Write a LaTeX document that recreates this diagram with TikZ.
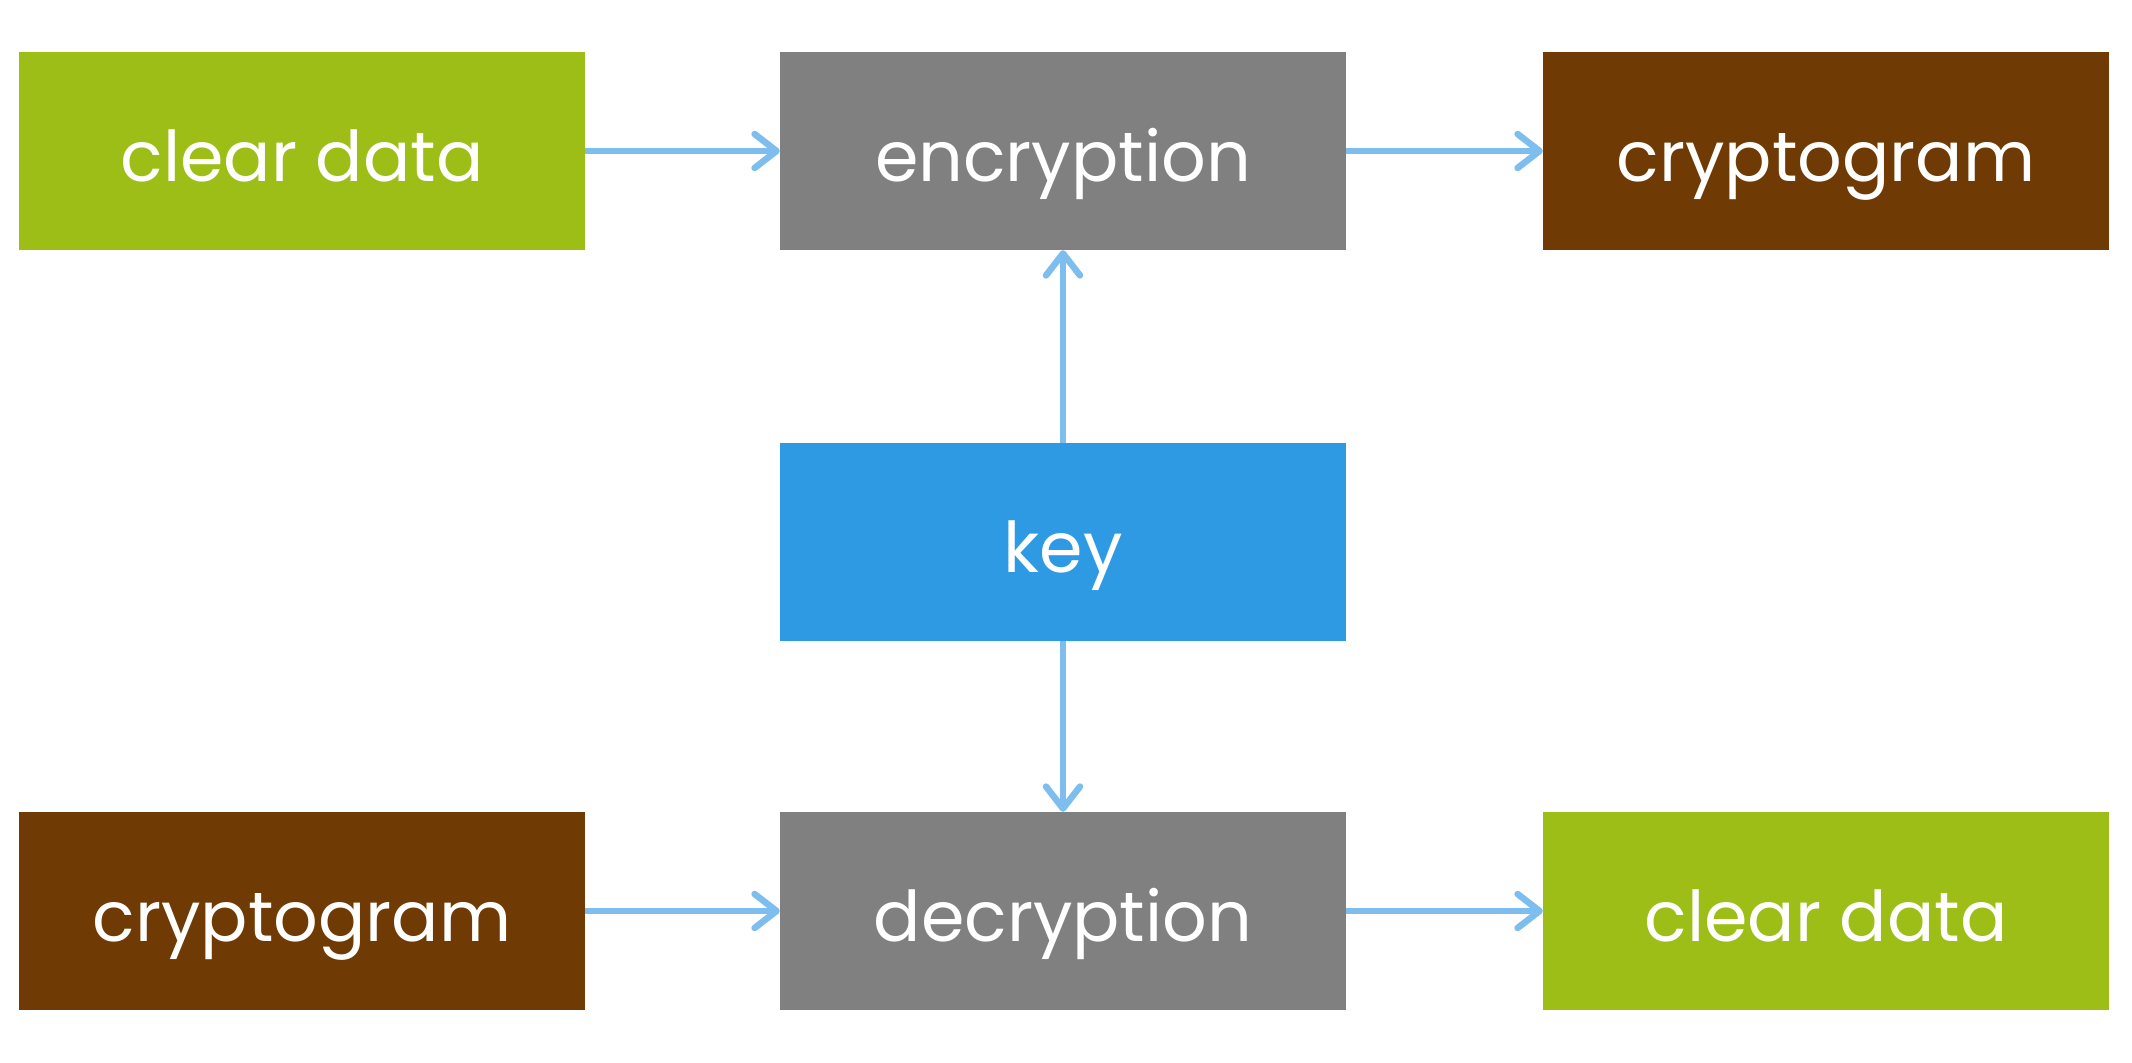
\documentclass[tikz,border=0pt]{standalone}
\usepackage{fontspec}
\setmainfont{Poppins}
\usetikzlibrary{arrows.meta}

\definecolor{leaf}{RGB}{157,190,22}
\definecolor{bark}{RGB}{111,58,3}
\definecolor{slate}{RGB}{128,128,128}
\definecolor{keyblue}{RGB}{46,154,228}
\definecolor{wire}{RGB}{125,190,238}

\begin{document}
\begin{tikzpicture}[x=1pt,y=-1pt,
  block/.style={rectangle, inner sep=0pt, minimum width=566pt, minimum height=198pt,
    text=white, text height=60pt, text depth=0pt,
    font=\fontsize{70}{76}\selectfont},
  flow/.style={draw=wire, line width=6.5pt,
    -{Straight Barb[length=22pt,width=34pt,line width=6.5pt,round]}}]
  \useasboundingbox (0,0) rectangle (2132,1062);

  % top row: encryption path
  \node[block, fill=leaf]  (clearA) at (302,151)  {clear data};
  \node[block, fill=slate] (enc)    at (1063,151) {encryption};
  \node[block, fill=bark]  (cryptA) at (1826,151) {cryptogram};

  % shared key
  \node[block, fill=keyblue] (key) at (1063,542) {key};

  % bottom row: decryption path
  \node[block, fill=bark]  (cryptB) at (302,911)  {cryptogram};
  \node[block, fill=slate] (dec)    at (1063,911) {decryption};
  \node[block, fill=leaf]  (clearB) at (1826,911) {clear data};

  \draw[flow] (clearA) -- (enc);
  \draw[flow] (enc) -- (cryptA);
  \draw[flow] (key) -- (enc);
  \draw[flow] (key) -- (dec);
  \draw[flow] (cryptB) -- (dec);
  \draw[flow] (dec) -- (clearB);
\end{tikzpicture}
\end{document}
